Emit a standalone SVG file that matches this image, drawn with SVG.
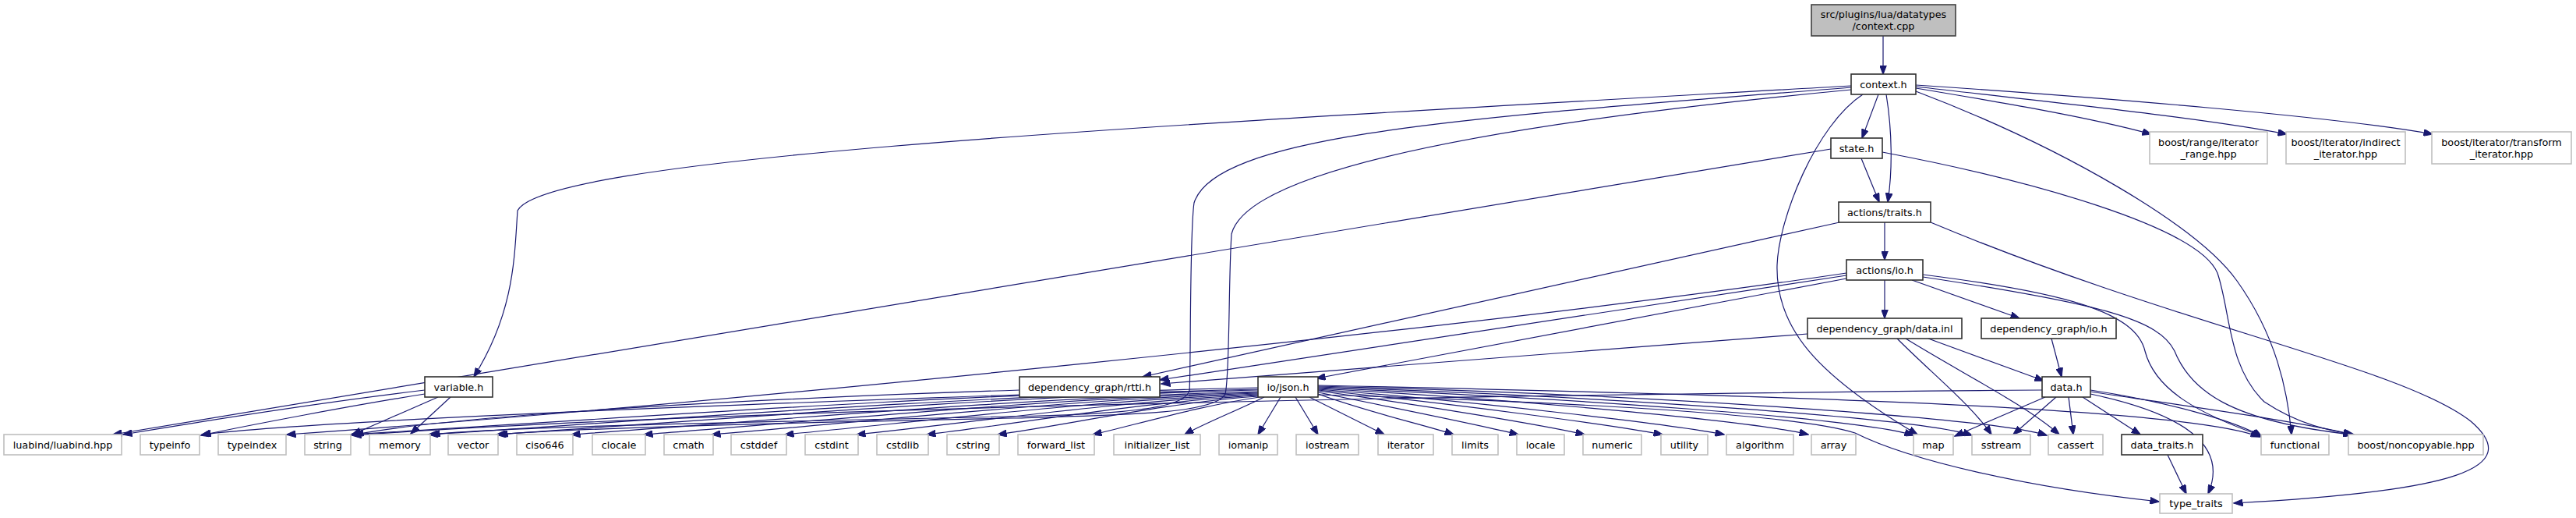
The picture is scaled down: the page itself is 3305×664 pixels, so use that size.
<svg xmlns="http://www.w3.org/2000/svg" width="3305" height="664" viewBox="0 0 3305 664">
<style>
.e{fill:none;stroke:#191970;stroke-width:1.2;marker-end:url(#a)}
.n rect{fill:#fff;stroke:#303030;stroke-width:1.6}
.x rect{fill:#fff;stroke:#bfbfbf;stroke-width:1.6}
.r rect{fill:#bfbfbf;stroke:#404040;stroke-width:1.6}
text{font-family:"DejaVu Sans","Liberation Sans",sans-serif;font-size:12.8px;text-anchor:middle;fill:#000}
</style>
<defs>
<marker id="a" markerWidth="13" markerHeight="9" refX="11.5" refY="4.5" orient="auto" markerUnits="userSpaceOnUse"><path d="M0,0 L12,4.5 L0,9 z" fill="#191970" stroke="#191970" stroke-width="1"/></marker>
</defs>
<rect width="3305" height="664" fill="#fff"/>
<g id="edges">
<path class="e" d="M2416,46 L2416,95"/>
<path class="e" d="M2410,121 L2389,177"/>
<path class="e" d="M2420,121 C2428,170 2428,220 2422,259"/>
<path class="e" d="M2388,203 L2411,259"/>
<path class="e" d="M2418,285 L2418,333"/>
<path class="e" d="M2418,359 L2418,408"/>
<path class="e" d="M2453,359 L2591,408"/>
<path class="e" d="M2458,113 C2560,130 2680,150 2760,172"/>
<path class="e" d="M2458,111 C2620,130 2820,150 2934,172"/>
<path class="e" d="M2458,109 C2700,125 3000,150 3121,172"/>
<path class="e" d="M2458,117 C2650,190 2820,290 2870,360 C2920,430 2935,500 2940,557"/>
<path class="e" d="M2390,121 C2330,160 2282,280 2280,340 C2278,420 2330,480 2460,557"/>
<path class="e" d="M2375,110 C1500,160 700,200 664,270 C660,330 660,400 608,483"/>
<path class="e" d="M2375,112 C1900,150 1560,170 1532,260 C1526,300 1528,480 1526,500 C1520,530 1400,532 1200,536 C900,542 640,548 553,557"/>
<path class="e" d="M2375,115 C1900,160 1600,220 1580,300 C1576,360 1578,480 1572,505 C1560,530 1450,532 1300,536 C1000,542 720,550 640,557"/>
<path class="e" d="M2349,191 L145,557"/>
<path class="e" d="M2415,195 C2600,230 2820,290 2845,350 C2862,400 2858,470 2905,515 C2950,545 2990,552 3020,557"/>
<path class="e" d="M2360,285 L1466,483"/>
<path class="e" d="M2477,285 C2800,420 3080,470 3170,540 C3240,600 3150,630 2866,645"/>
<path class="e" d="M2369,353 L1488,487"/>
<path class="e" d="M2369,357 L1689,485"/>
<path class="e" d="M2369,350 C1900,420 900,520 368,557"/>
<path class="e" d="M2467,352 C2650,375 2740,400 2752,450 C2765,500 2820,530 2902,559"/>
<path class="e" d="M2467,355 C2700,390 2770,410 2790,450 C2810,500 2860,540 3018,557"/>
<path class="e" d="M2474,434 L2622,488"/>
<path class="e" d="M2434,434 C2480,480 2530,520 2555,557"/>
<path class="e" d="M2445,434 C2520,480 2600,520 2642,557"/>
<path class="e" d="M2319,428 L1490,492"/>
<path class="e" d="M2632,434 L2645,483"/>
<path class="e" d="M2624,509 L2508,559"/>
<path class="e" d="M2638,509 L2583,557"/>
<path class="e" d="M2654,509 L2660,557"/>
<path class="e" d="M2672,509 L2746,557"/>
<path class="e" d="M2682,500 C2780,515 2870,540 2902,560"/>
<path class="e" d="M2682,502 C2800,520 2950,540 3018,557"/>
<path class="e" d="M2682,505 C2800,530 2860,570 2833,633"/>
<path class="e" d="M2620,500 C2000,505 1000,520 452,558"/>
<path class="e" d="M545,500 C420,515 260,540 158,557"/>
<path class="e" d="M545,505 C450,520 320,545 258,558"/>
<path class="e" d="M562,509 L452,557"/>
<path class="e" d="M578,509 L527,556"/>
<path class="e" d="M1308,500 C1000,510 600,530 455,557"/>
<path class="e" d="M1308,506 C900,520 400,540 259,557"/>
<path class="e" d="M2781,583 L2805,633"/>
<path class="e" d="M1614,497 C1207,505 741,540 450,557"/>
<path class="e" d="M1614,499 C1242,507 816,540 550,557"/>
<path class="e" d="M1614,500 C1272,508 881,541 637,557"/>
<path class="e" d="M1614,502 C1306,510 953,542 733,557"/>
<path class="e" d="M1614,503 C1338,511 1023,542 826,557"/>
<path class="e" d="M1614,504 C1369,512 1088,543 913,557"/>
<path class="e" d="M1614,505 C1402,513 1159,543 1007,557"/>
<path class="e" d="M1614,506 C1434,514 1228,544 1099,557"/>
<path class="e" d="M1614,507 C1465,515 1295,545 1189,557"/>
<path class="e" d="M1614,508 C1497,516 1363,546 1280,557"/>
<path class="e" d="M1616,509 C1540,520 1455,545 1402,557"/>
<path class="e" d="M1622,509 C1590,525 1540,545 1520,557"/>
<path class="e" d="M1643,509 L1614,557"/>
<path class="e" d="M1662,509 L1691,557"/>
<path class="e" d="M1680,509 L1776,557"/>
<path class="e" d="M1691,505 C1760,530 1830,545 1865,557"/>
<path class="e" d="M1691,503 C1800,525 1900,545 1948,557"/>
<path class="e" d="M1691,501 C1830,520 1980,545 2033,557"/>
<path class="e" d="M1691,500 C1870,518 2070,545 2133,557"/>
<path class="e" d="M1691,499 C1900,515 2150,545 2212,557"/>
<path class="e" d="M1691,498 C1950,512 2250,540 2320,557"/>
<path class="e" d="M1691,497 C2000,510 2380,535 2455,558"/>
<path class="e" d="M1691,496 C2050,508 2460,535 2530,558"/>
<path class="e" d="M1691,495 C2100,505 2550,535 2626,558"/>
<path class="e" d="M1691,494 C2200,505 2800,520 2899,560"/>
<path class="e" d="M1691,506 C2000,515 2300,530 2380,555 C2450,590 2600,625 2770,643"/>
</g>
<g id="root" class="r"><rect x="2324" y="6" width="185" height="40"/><text x="2416.5" y="22.5">src/plugins/lua/datatypes</text><text x="2416.5" y="37.5">/context.cpp</text></g>
<g id="context_h" class="n"><rect x="2375" y="95" width="83" height="26"/><text x="2416.5" y="112.5">context.h</text></g>
<g id="state_h" class="n"><rect x="2349" y="177" width="66" height="26"/><text x="2382" y="194.5">state.h</text></g>
<g id="actions_traits_h" class="n"><rect x="2359" y="259" width="118" height="26"/><text x="2418" y="276.5">actions/traits.h</text></g>
<g id="actions_io_h" class="n"><rect x="2369" y="333" width="98" height="26"/><text x="2418" y="350.5">actions/io.h</text></g>
<g id="dg_data_inl" class="n"><rect x="2319" y="408" width="198" height="26"/><text x="2418" y="425.5">dependency_graph/data.inl</text></g>
<g id="dg_io_h" class="n"><rect x="2542" y="408" width="173" height="26"/><text x="2628.5" y="425.5">dependency_graph/io.h</text></g>
<g id="boost_range" class="x"><rect x="2758" y="169" width="151" height="41"/><text x="2833.5" y="186.5">boost/range/iterator</text><text x="2833.5" y="201.5">_range.hpp</text></g>
<g id="boost_indirect" class="x"><rect x="2933" y="169" width="153" height="41"/><text x="3009.5" y="186.5">boost/iterator/indirect</text><text x="3009.5" y="201.5">_iterator.hpp</text></g>
<g id="boost_transform" class="x"><rect x="3120" y="169" width="179" height="41"/><text x="3209.5" y="186.5">boost/iterator/transform</text><text x="3209.5" y="201.5">_iterator.hpp</text></g>
<g id="variable_h" class="n"><rect x="545" y="483" width="87" height="26"/><text x="588.5" y="500.5">variable.h</text></g>
<g id="dg_rtti_h" class="n"><rect x="1308" y="483" width="180" height="26"/><text x="1398" y="500.5">dependency_graph/rtti.h</text></g>
<g id="io_json_h" class="n"><rect x="1614" y="483" width="77" height="26"/><text x="1652.5" y="500.5">io/json.h</text></g>
<g id="data_h" class="n"><rect x="2620" y="483" width="62" height="26"/><text x="2651" y="500.5">data.h</text></g>
<g id="luabind" class="x"><rect x="5" y="557" width="151" height="26"/><text x="80.5" y="574.5">luabind/luabind.hpp</text></g>
<g id="typeinfo" class="x"><rect x="180" y="557" width="76" height="26"/><text x="218" y="574.5">typeinfo</text></g>
<g id="typeindex" class="x"><rect x="280" y="557" width="87" height="26"/><text x="323.5" y="574.5">typeindex</text></g>
<g id="string" class="x"><rect x="391" y="557" width="59" height="26"/><text x="420.5" y="574.5">string</text></g>
<g id="memory" class="x"><rect x="474" y="557" width="78" height="26"/><text x="513" y="574.5">memory</text></g>
<g id="vector" class="x"><rect x="575" y="557" width="64" height="26"/><text x="607" y="574.5">vector</text></g>
<g id="ciso646" class="x"><rect x="663" y="557" width="72" height="26"/><text x="699" y="574.5">ciso646</text></g>
<g id="clocale" class="x"><rect x="760" y="557" width="68" height="26"/><text x="794" y="574.5">clocale</text></g>
<g id="cmath" class="x"><rect x="852" y="557" width="63" height="26"/><text x="883.5" y="574.5">cmath</text></g>
<g id="cstddef" class="x"><rect x="938" y="557" width="71" height="26"/><text x="973.5" y="574.5">cstddef</text></g>
<g id="cstdint" class="x"><rect x="1033" y="557" width="68" height="26"/><text x="1067" y="574.5">cstdint</text></g>
<g id="cstdlib" class="x"><rect x="1125" y="557" width="66" height="26"/><text x="1158" y="574.5">cstdlib</text></g>
<g id="cstring" class="x"><rect x="1215" y="557" width="67" height="26"/><text x="1248.5" y="574.5">cstring</text></g>
<g id="forward_list" class="x"><rect x="1306" y="557" width="98" height="26"/><text x="1355" y="574.5">forward_list</text></g>
<g id="initializer_list" class="x"><rect x="1429" y="557" width="111" height="26"/><text x="1484.5" y="574.5">initializer_list</text></g>
<g id="iomanip" class="x"><rect x="1564" y="557" width="75" height="26"/><text x="1601.5" y="574.5">iomanip</text></g>
<g id="iostream" class="x"><rect x="1663" y="557" width="80" height="26"/><text x="1703" y="574.5">iostream</text></g>
<g id="iterator" class="x"><rect x="1768" y="557" width="71" height="26"/><text x="1803.5" y="574.5">iterator</text></g>
<g id="limits" class="x"><rect x="1863" y="557" width="59" height="26"/><text x="1892.5" y="574.5">limits</text></g>
<g id="locale" class="x"><rect x="1946" y="557" width="61" height="26"/><text x="1976.5" y="574.5">locale</text></g>
<g id="numeric" class="x"><rect x="2031" y="557" width="75" height="26"/><text x="2068.5" y="574.5">numeric</text></g>
<g id="utility" class="x"><rect x="2131" y="557" width="60" height="26"/><text x="2161" y="574.5">utility</text></g>
<g id="algorithm" class="x"><rect x="2215" y="557" width="86" height="26"/><text x="2258" y="574.5">algorithm</text></g>
<g id="array" class="x"><rect x="2324" y="557" width="57" height="26"/><text x="2352.5" y="574.5">array</text></g>
<g id="map" class="x"><rect x="2455" y="557" width="51" height="26"/><text x="2480.5" y="574.5">map</text></g>
<g id="sstream" class="x"><rect x="2530" y="557" width="75" height="26"/><text x="2567.5" y="574.5">sstream</text></g>
<g id="cassert" class="x"><rect x="2628" y="557" width="70" height="26"/><text x="2663" y="574.5">cassert</text></g>
<g id="data_traits_h" class="n"><rect x="2722" y="557" width="104" height="26"/><text x="2774" y="574.5">data_traits.h</text></g>
<g id="functional" class="x"><rect x="2901" y="557" width="87" height="26"/><text x="2944.5" y="574.5">functional</text></g>
<g id="boost_noncopyable" class="x"><rect x="3013" y="557" width="173" height="26"/><text x="3099.5" y="574.5">boost/noncopyable.hpp</text></g>
<g id="type_traits" class="x"><rect x="2771" y="633" width="93" height="25"/><text x="2817.5" y="650">type_traits</text></g>
</svg>
